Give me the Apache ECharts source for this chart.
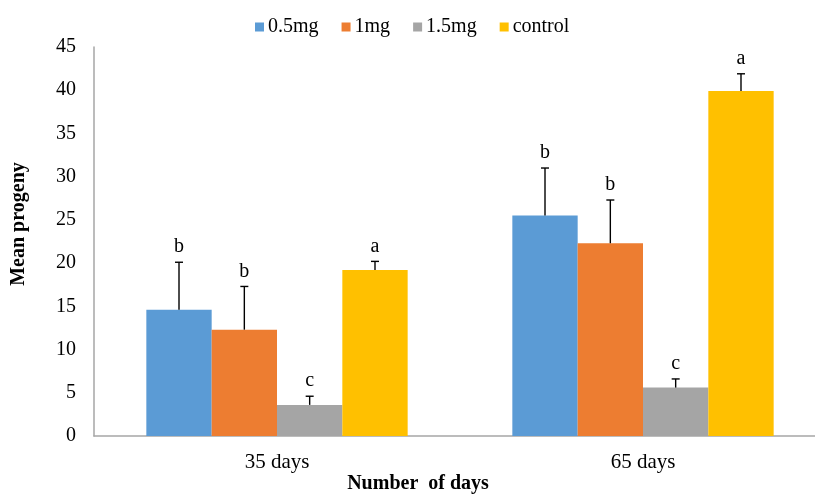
<!DOCTYPE html>
<html>
<head>
<meta charset="utf-8">
<script src="https://cdn.jsdelivr.net/npm/echarts@6/dist/echarts.min.js"></script>
<style>html,body{margin:0;padding:0;background:#fff}#c{width:815px;height:494px}</style>
</head>
<body>
<div id="c"></div>
<script>
var categories = ['35 days', '65 days'];
var seriesNames = ['0.5mg', '1mg', '1.5mg', 'control'];
var mean05 = [14.6, 25.5];
var mean1 = [12.3, 22.3];
var mean15 = [3.6, 5.6];
var meanCtrl = [19.2, 39.9];
var err05 = [5.5, 5.5];
var err1 = [5.0, 5.0];
var err15 = [1.0, 1.0];
var errCtrl = [1.0, 2.0];
var letters05 = ['b', 'b'];
var letters1 = ['b', 'b'];
var letters15 = ['c', 'c'];
var lettersCtrl = ['a', 'a'];
var yTicks = [0, 5, 10, 15, 20, 25, 30, 35, 40, 45];

var colors = ['#5B9BD5', '#ED7D31', '#A5A5A5', '#FFC000'];
var means = [mean05, mean1, mean15, meanCtrl];
var errs = [err05, err1, err15, errCtrl];
var letters = [letters05, letters1, letters15, lettersCtrl];
var FONT = '"Liberation Serif", "Times New Roman", serif';
var CAT_GAP = 0.286;

var chart = echarts.init(document.getElementById('c'), null, {renderer: 'canvas'});

var series = [];
seriesNames.forEach(function (name, i) {
  series.push({
    name: name,
    type: 'bar',
    data: means[i],
    barGap: '0%',
    barCategoryGap: (CAT_GAP * 100) + '%',
    itemStyle: {color: colors[i]},
    z: 2
  });
});

var errData = [];
for (var s = 0; s < 4; s++) {
  for (var c = 0; c < categories.length; c++) {
    errData.push([c, means[s][c], errs[s][c], s, letters[s][c]]);
  }
}

series.push({
  type: 'custom',
  name: 'errors',
  data: errData,
  z: 5,
  silent: true,
  encode: {x: 0, y: 1},
  renderItem: function (params, api) {
    var cat = api.value(0);
    var mean = api.value(1);
    var err = api.value(2);
    var sIdx = api.value(3);
    var letter = errData[params.dataIndex][4];
    var catWidth = api.size([1, 0])[0];
    var barW = catWidth * (1 - CAT_GAP) / 4;
    var base = api.coord([cat, mean]);
    var x = base[0] + (sIdx - 1.5) * barW;
    var top = api.coord([cat, mean + err])[1];
    var y0 = base[1];
    var cap = 4;
    return {
      type: 'group',
      children: [
        {type: 'line', shape: {x1: x, y1: y0, x2: x, y2: top}, style: {stroke: '#000', lineWidth: 1.4}},
        {type: 'line', shape: {x1: x - cap, y1: top, x2: x + cap, y2: top}, style: {stroke: '#000', lineWidth: 1.4}},
        {type: 'text', x: x, y: top - 15, style: {text: letter, fill: '#000', font: '20px ' + FONT, textAlign: 'center', textVerticalAlign: 'middle'}}
      ]
    };
  }
});

chart.setOption({
  animation: false,
  backgroundColor: '#ffffff',
  color: colors,
  legend: {
    data: seriesNames,
    top: 12,
    left: 250,
    itemWidth: 9,
    itemHeight: 9,
    itemGap: 23,
    icon: 'rect',
    textStyle: {fontFamily: FONT, fontSize: 20, color: '#000', padding: [0, 0, 0, -1]}
  },
  grid: {left: 94, right: -11, top: 47, bottom: 58, outerBoundsMode: 'none'},
  xAxis: {
    type: 'category',
    data: categories,
    axisLine: {show: true, lineStyle: {color: '#a6a6a6', width: 1.5}},
    axisTick: {show: false},
    axisLabel: {fontFamily: FONT, fontSize: 21, color: '#000', margin: 16}
  },
  yAxis: {
    type: 'value',
    min: 0,
    max: 45,
    interval: 5,
    axisLine: {show: true, lineStyle: {color: '#a6a6a6', width: 1.5}},
    axisTick: {show: false},
    splitLine: {show: false},
    axisLabel: {fontFamily: FONT, fontSize: 20, color: '#000', margin: 18,
      formatter: function (v) { return yTicks.indexOf(v) >= 0 ? String(v) : ''; }}
  },
  graphic: [
    {type: 'text', x: 19, y: 224, rotation: Math.PI / 2,
      style: {text: 'Mean progeny', font: 'bold 20px ' + FONT, fill: '#000', textAlign: 'center', textVerticalAlign: 'middle'}},
    {type: 'text', x: 418, y: 484,
      style: {text: 'Number  of days', font: 'bold 20px ' + FONT, fill: '#000', textAlign: 'center', textVerticalAlign: 'middle'}}
  ],
  series: series
});
</script>
</body>
</html>
